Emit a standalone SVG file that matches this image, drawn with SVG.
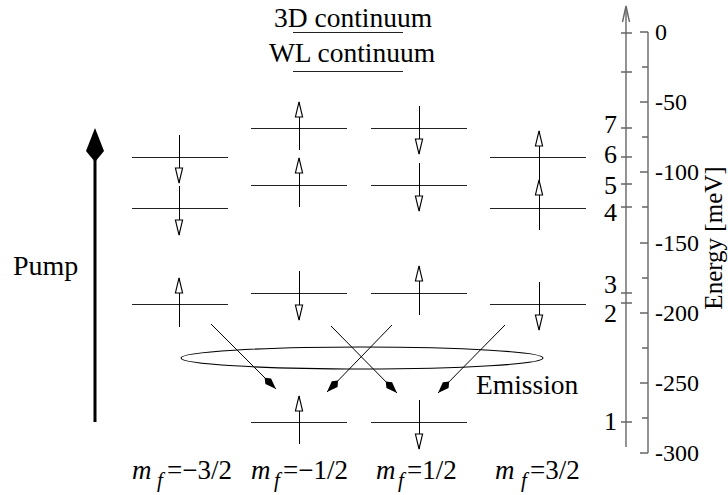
<svg xmlns="http://www.w3.org/2000/svg" width="728" height="495" viewBox="0 0 728 495">
<defs>
<style>
.t{font-family:"Liberation Serif","Times New Roman",serif;fill:#000}
.lvl{stroke:#222;stroke-width:1;fill:none;shape-rendering:crispEdges}
.spin{stroke:#000;stroke-width:1;fill:none;marker-end:url(#open);shape-rendering:crispEdges}
.em{stroke:#000;stroke-width:1;fill:none;marker-end:url(#kite)}
.ax{stroke:#666;stroke-width:1.4;fill:none}
</style>
<marker id="open" markerUnits="userSpaceOnUse" markerWidth="20" markerHeight="12" viewBox="-17 -6 20 12" refX="0" refY="0" orient="auto" overflow="visible">
<path d="M0,0 L-15,-3.6 L-15,3.6 Z" fill="#fff" stroke="#000" stroke-width="1.1" shape-rendering="geometricPrecision"/>
</marker>
<marker id="kite" markerUnits="userSpaceOnUse" markerWidth="20" markerHeight="12" viewBox="-18 -6 20 12" refX="0" refY="0" orient="auto" overflow="visible">
<path d="M0,0 L-11,-4 L-16,0 L-11,4 Z" fill="#000"/>
</marker>
</defs>

<g id="continuum">
<text class="t" x="353" y="27" font-size="27.5" text-anchor="middle">3D continuum</text>
<line class="lvl" x1="293" y1="32.5" x2="403" y2="32.5"/>
<text class="t" x="352" y="62" font-size="27.5" text-anchor="middle">WL continuum</text>
<line class="lvl" x1="293" y1="71.5" x2="403" y2="71.5"/>
</g>

<g id="pump">
<line x1="95" y1="422" x2="95" y2="155" stroke="#000" stroke-width="3"/>
<path d="M95,128 L86,151 L95,162 L104,151 Z" fill="#000"/>
<text class="t" x="13" y="275" font-size="28">Pump</text>
</g>

<g id="col-m3">
<line class="lvl" x1="132" y1="157" x2="228" y2="157"/>
<line class="lvl" x1="132" y1="208" x2="228" y2="208"/>
<line class="lvl" x1="132" y1="304" x2="228" y2="304"/>
</g>
<g id="col-m1">
<line class="lvl" x1="251" y1="128" x2="347" y2="128"/>
<line class="lvl" x1="251" y1="185" x2="347" y2="185"/>
<line class="lvl" x1="251" y1="293" x2="347" y2="293"/>
<line class="lvl" x1="251" y1="422" x2="347" y2="422"/>
</g>
<g id="col-p1">
<line class="lvl" x1="371" y1="128" x2="467" y2="128"/>
<line class="lvl" x1="371" y1="185" x2="467" y2="185"/>
<line class="lvl" x1="371" y1="293" x2="467" y2="293"/>
<line class="lvl" x1="371" y1="422" x2="467" y2="422"/>
</g>
<g id="col-p3">
<line class="lvl" x1="490" y1="157" x2="586" y2="157"/>
<line class="lvl" x1="490" y1="208" x2="586" y2="208"/>
<line class="lvl" x1="490" y1="304" x2="586" y2="304"/>
</g>

<g id="spins">
<line class="spin" x1="179" y1="135" x2="179" y2="183"/>
<line class="spin" x1="179" y1="186" x2="179" y2="235"/>
<line class="spin" x1="179" y1="327" x2="179" y2="278"/>
<line class="spin" x1="299" y1="150" x2="299" y2="102"/>
<line class="spin" x1="299" y1="207" x2="299" y2="158"/>
<line class="spin" x1="299" y1="271" x2="299" y2="320"/>
<line class="spin" x1="299" y1="444" x2="299" y2="396"/>
<line class="spin" x1="419" y1="106" x2="419" y2="154"/>
<line class="spin" x1="419" y1="163" x2="419" y2="211"/>
<line class="spin" x1="419" y1="315" x2="419" y2="266"/>
<line class="spin" x1="419" y1="400" x2="419" y2="449"/>
<line class="spin" x1="539" y1="180" x2="539" y2="131"/>
<line class="spin" x1="539" y1="230" x2="539" y2="180"/>
<line class="spin" x1="539" y1="282" x2="539" y2="330"/>
</g>

<g id="emission">
<ellipse cx="362" cy="358" rx="181" ry="11" fill="none" stroke="#000" stroke-width="1.1"/>
<text class="t" x="476" y="394" font-size="27.5">Emission</text>
</g>

<g id="connectors">
<line class="em" x1="211" y1="324" x2="276" y2="389"/>
<line class="em" x1="392" y1="325" x2="327" y2="392"/>
<line class="em" x1="331" y1="326" x2="397" y2="393"/>
<line class="em" x1="505" y1="325" x2="438" y2="393"/>
</g>

<g id="mf-labels" class="t" font-size="27">
<text y="479"><tspan x="132" font-style="italic">m</tspan><tspan x="157" dy="8" font-size="21" font-style="italic">f</tspan><tspan x="167" dy="-8">=−3/2</tspan></text>
<text y="479"><tspan x="251" font-style="italic">m</tspan><tspan x="274" dy="8" font-size="21" font-style="italic">f</tspan><tspan x="283" dy="-8">=−1/2</tspan></text>
<text y="479"><tspan x="376" font-style="italic">m</tspan><tspan x="398" dy="8" font-size="21" font-style="italic">f</tspan><tspan x="407" dy="-8">=1/2</tspan></text>
<text y="479"><tspan x="495" font-style="italic">m</tspan><tspan x="521" dy="8" font-size="21" font-style="italic">f</tspan><tspan x="530" dy="-8">=3/2</tspan></text>
</g>

<g id="level-axis">
<line class="ax" x1="626" y1="447" x2="626" y2="7"/>
<polyline class="ax" points="622.5,22 626,6 629.5,22"/>
<path class="ax" d="M621,33H632M621,72H632M621,128H632M621,157H632M621,184H632M621,207H632M621,293H632M621,303H632M621,422H632"/>
<g class="t" font-size="26" text-anchor="end">
<text x="617" y="133">7</text>
<text x="617" y="163">6</text>
<text x="617" y="194">5</text>
<text x="617" y="221">4</text>
<text x="617" y="293">3</text>
<text x="617" y="322">2</text>
<text x="617" y="430">1</text>
</g>
</g>

<g id="energy-axis">
<line class="ax" x1="648" y1="32" x2="648" y2="453"/>
<path class="ax" d="M640,32H648M640,102H648M640,172H648M640,243H648M640,313H648M640,383H648M640,453H648M642,67H648M642,137H648M642,207H648M642,278H648M642,348H648M642,418H648"/>
<g class="t" font-size="24">
<text x="655" y="40">0</text>
<text x="655" y="110">-50</text>
<text x="655" y="180">-100</text>
<text x="655" y="251">-150</text>
<text x="655" y="321">-200</text>
<text x="655" y="391">-250</text>
<text x="655" y="461">-300</text>
</g>
<text class="t" font-size="25" text-anchor="middle" transform="translate(722,238) rotate(-90)">Energy [meV]</text>
</g>
</svg>
